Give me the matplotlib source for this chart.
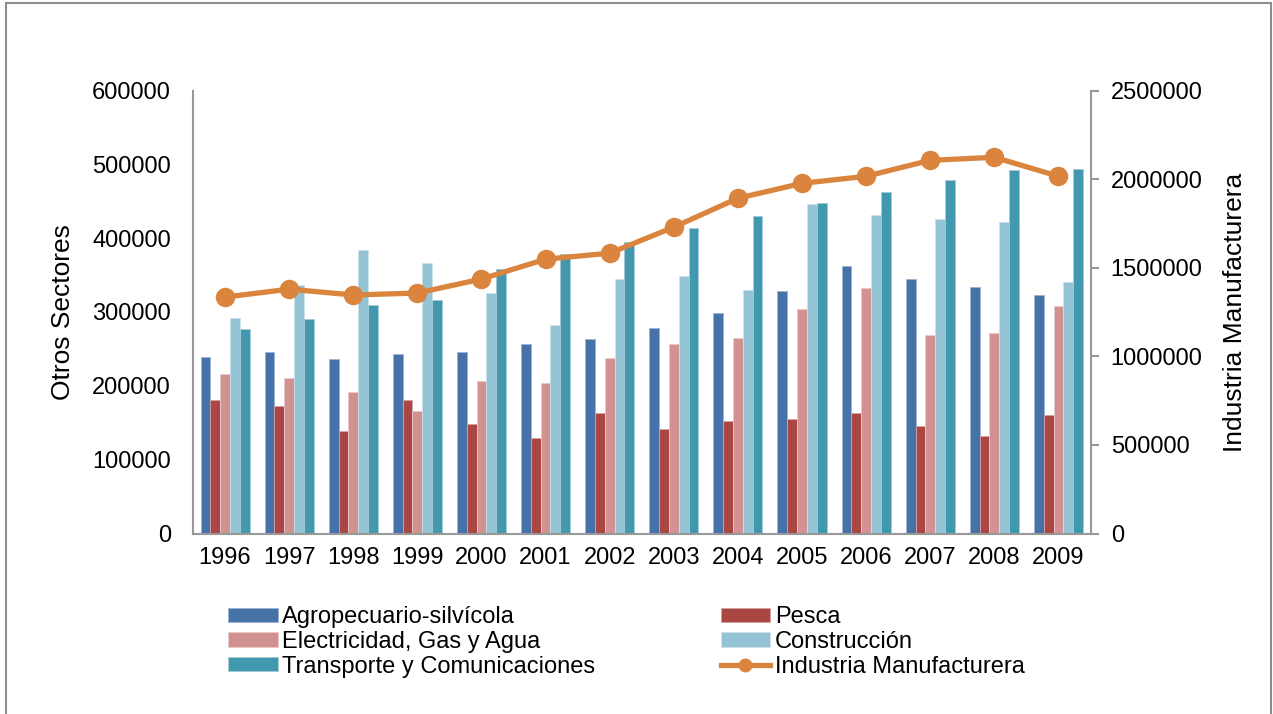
import matplotlib
matplotlib.use("Agg")
import matplotlib.pyplot as plt
import numpy as np
from matplotlib.patches import Rectangle
from matplotlib.lines import Line2D

plt.rcParams['font.family'] = ['Liberation Sans', 'DejaVu Sans']

years = ["1996", "1997", "1998", "1999", "2000", "2001", "2002",
         "2003", "2004", "2005", "2006", "2007", "2008", "2009"]

agropecuario = [239000, 245500, 236500, 243200, 245500, 256300, 263500,
                278800, 298600, 327900, 362600, 344100, 333300, 323400]
pesca = [180700, 173000, 139200, 181100, 148200, 128800, 163000,
         141900, 152200, 155000, 163500, 145900, 131500, 160800]
electricidad = [216200, 211200, 191900, 165700, 206700, 204000, 237400,
                256300, 264900, 304000, 332400, 268900, 271100, 308500]
construccion = [291900, 336900, 383300, 365700, 325200, 282800, 345000,
                348600, 330100, 446300, 431000, 426100, 422500, 340900]
transporte = [276600, 290500, 309900, 315700, 357600, 379200, 395000,
              414400, 430600, 448200, 462500, 478400, 492300, 493600]
industria = [1334000, 1379000, 1346000, 1357000, 1436000, 1548000, 1582000,
             1729000, 1892000, 1976000, 2016000, 2106000, 2123000, 2016000]

series = [
    ("Agropecuario-silvícola", agropecuario, "#4672A8", "#9DB4D3"),
    ("Pesca", pesca, "#AA4644", "#D6A3A2"),
    ("Electricidad, Gas y Agua", electricidad, "#D29292", "#EAC9C9"),
    ("Construcción", construccion, "#93C3D4", "#CBE2EA"),
    ("Transporte y Comunicaciones", transporte, "#4198AF", "#A3CCD8"),
]
line_label = "Industria Manufacturera"
line_color = "#DB843D"
axis_gray = "#989898"
tick_fs = 17
label_fs = 19

fig = plt.figure(figsize=(12.73, 7.14), dpi=100)
fig.patches.append(Rectangle((6 / 1273, -0.01), 1265 / 1273, 1 - 3 / 714 + 0.01,
                             transform=fig.transFigure, fill=False,
                             edgecolor="#8C8C8C", linewidth=1.5))

ax = fig.add_axes([193 / 1273, 1 - 533.5 / 714, 897.5 / 1273, 443 / 714])
x = np.arange(len(years))
bw = 0.153
bar_handles = []
for i, (name, vals, col, edge) in enumerate(series):
    b = ax.bar(x + (i - 2) * bw, vals, width=bw, color=col, edgecolor=edge,
               linewidth=0.6, label=name, zorder=2)
    bar_handles.append(b)

ax.set_xlim(-0.5, len(years) - 0.5)
ax.set_ylim(0, 600000)
ax.set_yticks(np.arange(0, 600001, 100000))
ax.set_yticklabels([f"{v:d}" for v in range(0, 600001, 100000)])
ax.set_xticks(x)
ax.set_xticklabels(years)
ax.tick_params(axis='y', length=0, labelsize=tick_fs, pad=16)
ax.tick_params(axis='x', length=0, labelsize=tick_fs, pad=10)
ax.spines['top'].set_visible(False)
ax.spines['right'].set_visible(False)
for s in ('left', 'bottom'):
    ax.spines[s].set_color(axis_gray)
    ax.spines[s].set_linewidth(1.5)
ax.set_ylabel("Otros Sectores", fontsize=label_fs, labelpad=12)

ax2 = ax.twinx()
ax2.plot(x, industria, color=line_color, linewidth=3.8, marker='o',
         markersize=13, zorder=3)
ax2.set_ylim(0, 2500000)
ax2.set_yticks(np.arange(0, 2500001, 500000))
ax2.set_yticklabels([f"{v:d}" for v in range(0, 2500001, 500000)])
ax2.tick_params(axis='y', length=6, width=1.5, color=axis_gray,
                labelsize=tick_fs, pad=8.5)
for s in ('top', 'left', 'bottom'):
    ax2.spines[s].set_visible(False)
ax2.spines['right'].set_color(axis_gray)
ax2.spines['right'].set_linewidth(1.5)
ax2.set_ylabel(line_label, fontsize=label_fs, labelpad=14.5)

line_handle = Line2D([], [], color=line_color, linewidth=3.8, marker='o',
                     markersize=9)
handles = [bar_handles[0], bar_handles[2], bar_handles[4],
           bar_handles[1], bar_handles[3], line_handle]
labels = [series[0][0], series[2][0], series[4][0],
          series[1][0], series[3][0], line_label]
fig.legend(handles, labels, loc='upper left',
           bbox_to_anchor=(228 / 1273, 1 - 606 / 714), ncol=2,
           frameon=False, fontsize=tick_fs, borderpad=0, borderaxespad=0,
           labelspacing=0.12, handlelength=2.1, handletextpad=0.2,
           columnspacing=5.3, handleheight=0.55)

fig.savefig("out.png", dpi=100)
